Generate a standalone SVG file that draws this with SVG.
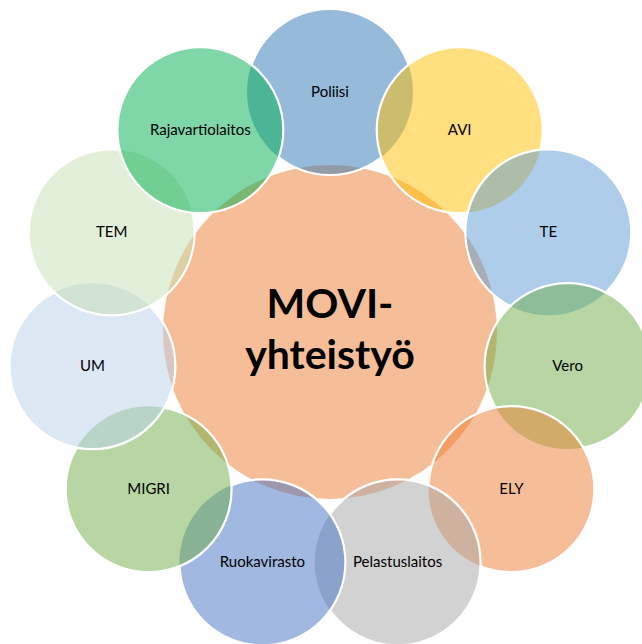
<svg xmlns="http://www.w3.org/2000/svg" width="642" height="644" viewBox="0 0 642 644">
<style>
.f{fill-opacity:0.5;stroke:none}
.s{fill:none;stroke:#fff;stroke-width:2.2}
.t{font-family:Lato,"Noto Sans","Liberation Sans",sans-serif;font-size:15px;fill:#000;text-anchor:middle}
.c{font-family:Lato,"Noto Sans","Liberation Sans",sans-serif;font-size:41px;font-weight:bold;fill:#000;text-anchor:middle}
</style>
<defs>
<mask id="m0" maskUnits="userSpaceOnUse" x="0" y="0" width="642" height="644"><rect width="642" height="644" fill="#fff"/><circle cx="459.7" cy="130.1" r="83" fill="#000"/><circle cx="200.3" cy="130.1" r="83" fill="#000"/></mask>
<mask id="m1" maskUnits="userSpaceOnUse" x="0" y="0" width="642" height="644"><rect width="642" height="644" fill="#fff"/><circle cx="548.3" cy="232.3" r="83" fill="#000"/></mask>
<mask id="m2" maskUnits="userSpaceOnUse" x="0" y="0" width="642" height="644"><rect width="642" height="644" fill="#fff"/><circle cx="567.6" cy="366.2" r="83" fill="#000"/></mask>
<mask id="m3" maskUnits="userSpaceOnUse" x="0" y="0" width="642" height="644"><rect width="642" height="644" fill="#fff"/><circle cx="511.4" cy="489.2" r="83" fill="#000"/></mask>
<mask id="m4" maskUnits="userSpaceOnUse" x="0" y="0" width="642" height="644"><rect width="642" height="644" fill="#fff"/><circle cx="397.6" cy="562.3" r="83" fill="#000"/></mask>
<mask id="m5" maskUnits="userSpaceOnUse" x="0" y="0" width="642" height="644"><rect width="642" height="644" fill="#fff"/><circle cx="262.4" cy="562.3" r="83" fill="#000"/></mask>
<mask id="m6" maskUnits="userSpaceOnUse" x="0" y="0" width="642" height="644"><rect width="642" height="644" fill="#fff"/><circle cx="148.6" cy="489.2" r="83" fill="#000"/></mask>
<mask id="m7" maskUnits="userSpaceOnUse" x="0" y="0" width="642" height="644"><rect width="642" height="644" fill="#fff"/><circle cx="92.4" cy="366.2" r="83" fill="#000"/></mask>
<mask id="m8" maskUnits="userSpaceOnUse" x="0" y="0" width="642" height="644"><rect width="642" height="644" fill="#fff"/><circle cx="111.7" cy="232.3" r="83" fill="#000"/></mask>
<mask id="m9" maskUnits="userSpaceOnUse" x="0" y="0" width="642" height="644"><rect width="642" height="644" fill="#fff"/><circle cx="200.3" cy="130.1" r="83" fill="#000"/></mask>
</defs>
<rect width="642" height="644" fill="#fff"/>
<g id="connectors"></g>
<g id="center">
<circle class="f" cx="330" cy="332" r="167" fill="#ED7D31"/>
<text class="c" x="330" y="318">MOVI-</text>
<text class="c" x="330" y="369">yhteistyö</text>
</g>
<g id="poliisi">
<circle class="f" cx="330" cy="92" r="83" fill="#2E75B6"/>
<circle class="s" cx="330" cy="92" r="83" mask="url(#m0)"/>
<text class="t" x="330" y="97">Poliisi</text>
</g>
<g id="avi">
<circle class="f" cx="459.7" cy="130.1" r="83" fill="#FFC000"/>
<circle class="s" cx="459.7" cy="130.1" r="83" mask="url(#m1)"/>
<text class="t" x="459.7" y="135">AVI</text>
</g>
<g id="te">
<circle class="f" cx="548.3" cy="232.3" r="83" fill="#5B9BD5"/>
<circle class="s" cx="548.3" cy="232.3" r="83" mask="url(#m2)"/>
<text class="t" x="548.3" y="237">TE</text>
</g>
<g id="vero">
<circle class="f" cx="567.6" cy="366.2" r="83" fill="#70AD47"/>
<circle class="s" cx="567.6" cy="366.2" r="83" mask="url(#m3)"/>
<text class="t" x="567.6" y="371">Vero</text>
</g>
<g id="ely">
<circle class="f" cx="511.4" cy="489.2" r="83" fill="#ED7D31"/>
<circle class="s" cx="511.4" cy="489.2" r="83" mask="url(#m4)"/>
<text class="t" x="511.4" y="494">ELY</text>
</g>
<g id="pelastuslaitos">
<circle class="f" cx="397.6" cy="562.3" r="83" fill="#A5A5A5"/>
<circle class="s" cx="397.6" cy="562.3" r="83" mask="url(#m5)"/>
<text class="t" x="397.6" y="567">Pelastuslaitos</text>
</g>
<g id="ruokavirasto">
<circle class="f" cx="262.4" cy="562.3" r="83" fill="#4472C4"/>
<circle class="s" cx="262.4" cy="562.3" r="83" mask="url(#m6)"/>
<text class="t" x="262.4" y="567">Ruokavirasto</text>
</g>
<g id="migri">
<circle class="f" cx="148.6" cy="489.2" r="83" fill="#70AD47"/>
<circle class="s" cx="148.6" cy="489.2" r="83" mask="url(#m7)"/>
<text class="t" x="148.6" y="494">MIGRI</text>
</g>
<g id="um">
<circle class="f" cx="92.4" cy="366.2" r="83" fill="#B9D1EA"/>
<circle class="s" cx="92.4" cy="366.2" r="83" mask="url(#m8)"/>
<text class="t" x="92.4" y="371">UM</text>
</g>
<g id="tem">
<circle class="f" cx="111.7" cy="232.3" r="83" fill="#C5E0B4"/>
<circle class="s" cx="111.7" cy="232.3" r="83" mask="url(#m9)"/>
<text class="t" x="111.7" y="237">TEM</text>
</g>
<g id="rajavartiolaitos">
<circle class="f" cx="200.3" cy="130.1" r="83" fill="#00B050"/>
<circle class="s" cx="200.3" cy="130.1" r="83"/>
<text class="t" x="200.3" y="135">Rajavartiolaitos</text>
</g>
</svg>
